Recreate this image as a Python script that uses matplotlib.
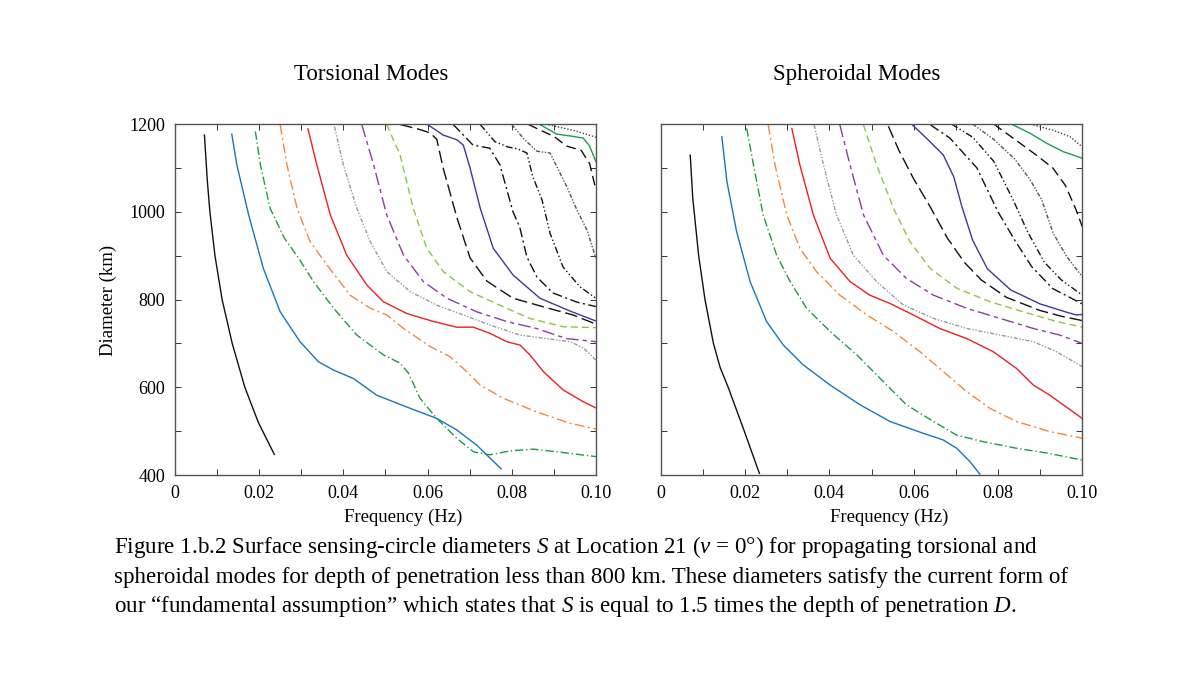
import matplotlib
matplotlib.use("Agg")
import matplotlib.pyplot as plt
from matplotlib.ticker import MultipleLocator

plt.rcParams.update({
    "font.family": ["Liberation Serif", "DejaVu Serif"],
    "mathtext.fontset": "custom",
    "mathtext.rm": "Liberation Serif",
    "mathtext.it": "Liberation Serif:italic",
})

# ---- torsional modes (left panel): frequency (Hz) / diameter (km) per branch ----
T1_F = [0.0070, 0.0077, 0.0083, 0.0095, 0.0112, 0.0136, 0.0166, 0.0198, 0.0236]
T1_D = [1175, 1069, 1000, 900, 800, 700, 600, 520, 447]
T2_F = [0.0135, 0.0147, 0.0175, 0.0210, 0.0250, 0.0297, 0.0341, 0.0377, 0.0424, 0.0479,
        0.0559, 0.0622, 0.0669, 0.0717, 0.0775]
T2_D = [1177, 1107, 993, 871, 772, 704, 658, 639, 620, 582, 552, 529, 503, 468, 414]
T3_F = [0.0191, 0.0203, 0.0226, 0.0260, 0.0294, 0.0329, 0.0377, 0.0432, 0.0495, 0.0535,
        0.0555, 0.0582, 0.0622, 0.0669, 0.0709, 0.0748, 0.0796, 0.0851, 0.0907, 0.1000]
T3_D = [1183, 1107, 1008, 940, 894, 841, 780, 719, 674, 655, 632, 575, 529, 484, 453,
        446, 455, 459, 453, 442]
T4_F = [0.0250, 0.0266, 0.0290, 0.0321, 0.0361, 0.0416, 0.0464, 0.0503, 0.0543, 0.0606,
        0.0653, 0.0685, 0.0725, 0.0780, 0.0859, 0.0938, 0.1000]
T4_D = [1198, 1107, 1008, 932, 879, 810, 780, 765, 734, 693, 670, 643, 605, 575, 544, 518, 505]
T5_F = [0.0316, 0.0337, 0.0369, 0.0408, 0.0456, 0.0495, 0.0551, 0.0614, 0.0669, 0.0709,
        0.0748, 0.0788, 0.0820, 0.0843, 0.0875, 0.0922, 0.0970, 0.1000]
T5_D = [1189, 1107, 993, 901, 833, 795, 768, 750, 737, 737, 723, 704, 696, 674, 636, 594, 567, 553]
T6_F = [0.0379, 0.0400, 0.0432, 0.0464, 0.0503, 0.0559, 0.0622, 0.0685, 0.0748, 0.0820,
        0.0883, 0.0938, 0.0970, 0.1000]
T6_D = [1194, 1107, 1008, 932, 864, 818, 787, 765, 742, 719, 711, 704, 690, 662]
T7_F = [0.0444, 0.0472, 0.0503, 0.0543, 0.0590, 0.0646, 0.0717, 0.0788, 0.0859, 0.0930, 0.1000]
T7_D = [1198, 1107, 993, 901, 841, 803, 772, 750, 734, 711, 704]
T8_F = [0.0503, 0.0535, 0.0566, 0.0598, 0.0638, 0.0701, 0.0772, 0.0843, 0.0922, 0.1000]
T8_D = [1199, 1129, 1008, 917, 863, 818, 787, 757, 738, 736]
T9_F = [0.0535, 0.0580, 0.0606, 0.0622, 0.0637, 0.0670, 0.0701, 0.0741, 0.0803, 0.0884,
        0.0945, 0.1000]
T9_D = [1199, 1188, 1180, 1165, 1100, 986, 895, 842, 803, 781, 765, 744]
T10_F = [0.0600, 0.0637, 0.0670, 0.0685, 0.0701, 0.0725, 0.0756, 0.0803, 0.0867, 0.0938, 0.1000]
T10_D = [1199, 1175, 1164, 1152, 1100, 1009, 917, 856, 803, 774, 751]
T11_F = [0.0661, 0.0685, 0.0708, 0.0748, 0.0772, 0.0803, 0.0819, 0.0836, 0.0860, 0.0898,
         0.0955, 0.1000]
T11_D = [1199, 1175, 1152, 1145, 1107, 1000, 965, 897, 851, 815, 794, 784]
T12_F = [0.0725, 0.0760, 0.0790, 0.0815, 0.0836, 0.0850, 0.0872, 0.0891, 0.0922, 0.0962, 0.1000]
T12_D = [1199, 1160, 1148, 1143, 1134, 1080, 1027, 951, 874, 829, 803]
T13_F = [0.0800, 0.0830, 0.0860, 0.0891, 0.0931, 0.0955, 0.0979, 0.1000]
T13_D = [1199, 1165, 1138, 1134, 1057, 1004, 958, 894]
T14_F = [0.0840, 0.0870, 0.0900, 0.0930, 0.0965, 0.0985, 0.1000]
T14_D = [1199, 1185, 1172, 1150, 1140, 1110, 1050]
T15_F = [0.0867, 0.0907, 0.0938, 0.0970, 0.0985, 0.1000]
T15_D = [1199, 1177, 1173, 1168, 1150, 1114]
T16_F = [0.0880, 0.0898, 0.0945, 0.1000]
T16_D = [1200, 1196, 1186, 1170]

# ---- spheroidal modes (right panel) ----
S1_F = [0.0070, 0.0076, 0.0090, 0.0105, 0.0115, 0.0125, 0.0141, 0.0160, 0.0196, 0.0234]
S1_D = [1129, 1031, 900, 800, 750, 700, 645, 600, 506, 404]
S2_F = [0.0145, 0.0157, 0.0180, 0.0212, 0.0251, 0.0291, 0.0338, 0.0402, 0.0473, 0.0544,
        0.0623, 0.0670, 0.0702, 0.0734, 0.0757]
S2_D = [1171, 1069, 955, 841, 750, 696, 651, 605, 560, 522, 495, 480, 461, 430, 402]
S3_F = [0.0204, 0.0220, 0.0243, 0.0275, 0.0307, 0.0346, 0.0402, 0.0465, 0.0528, 0.0583,
        0.0647, 0.0702, 0.0765, 0.0844, 0.0923, 0.1000]
S3_D = [1190, 1107, 993, 901, 841, 780, 727, 674, 613, 560, 522, 491, 476, 461, 449, 434]
S4_F = [0.0255, 0.0271, 0.0299, 0.0330, 0.0370, 0.0425, 0.0489, 0.0552, 0.0615, 0.0670,
        0.0726, 0.0781, 0.0844, 0.0923, 0.1000]
S4_D = [1198, 1107, 993, 917, 863, 810, 765, 727, 681, 636, 590, 552, 522, 499, 484]
S5_F = [0.0311, 0.0330, 0.0362, 0.0402, 0.0449, 0.0496, 0.0544, 0.0599, 0.0662, 0.0726,
        0.0789, 0.0844, 0.0884, 0.0923, 0.1000]
S5_D = [1190, 1107, 993, 894, 841, 810, 791, 765, 734, 711, 681, 643, 605, 582, 529]
S6_F = [0.0364, 0.0386, 0.0417, 0.0457, 0.0512, 0.0575, 0.0647, 0.0726, 0.0805, 0.0884,
        0.0939, 0.1000]
S6_D = [1198, 1107, 993, 901, 841, 788, 757, 734, 719, 704, 681, 647]
S7_F = [0.0425, 0.0449, 0.0481, 0.0528, 0.0583, 0.0647, 0.0726, 0.0805, 0.0884, 0.0947, 0.1000]
S7_D = [1198, 1107, 993, 901, 848, 810, 780, 757, 734, 719, 700]
S8_F = [0.0481, 0.0512, 0.0552, 0.0591, 0.0639, 0.0702, 0.0781, 0.0860, 0.0939, 0.1000]
S8_D = [1198, 1107, 1008, 932, 871, 826, 795, 772, 750, 737]
S9_F = [0.0540, 0.0565, 0.0600, 0.0640, 0.0680, 0.0720, 0.0760, 0.0820, 0.0900, 0.0950, 0.1000]
S9_D = [1195, 1140, 1075, 1010, 940, 885, 845, 805, 775, 762, 752]
S10_F = [0.0595, 0.0630, 0.0670, 0.0695, 0.0715, 0.0740, 0.0775, 0.0830, 0.0900, 0.0960,
         0.0985, 0.1000]
S10_D = [1200, 1168, 1130, 1080, 1010, 935, 870, 822, 790, 772, 765, 766]
S11_F = [0.0640, 0.0686, 0.0750, 0.0800, 0.0840, 0.0880, 0.0930, 0.0970, 0.1000]
S11_D = [1198, 1168, 1100, 1000, 935, 875, 825, 805, 790]
S12_F = [0.0690, 0.0740, 0.0790, 0.0836, 0.0870, 0.0910, 0.0950, 0.1000]
S12_D = [1200, 1170, 1115, 1027, 955, 885, 845, 810]
S13_F = [0.0740, 0.0790, 0.0840, 0.0875, 0.0904, 0.0931, 0.0963, 0.1000]
S13_D = [1200, 1165, 1120, 1075, 1027, 951, 898, 852]
S14_F = [0.0790, 0.0840, 0.0890, 0.0930, 0.0960, 0.0985, 0.1000]
S14_D = [1200, 1165, 1130, 1100, 1060, 1005, 966]
S15_F = [0.0836, 0.0876, 0.0916, 0.0955, 0.1000]
S15_D = [1198, 1179, 1156, 1137, 1122]
S16_F = [0.0884, 0.0931, 0.0971, 0.1000]
S16_D = [1198, 1186, 1171, 1148]

TORSIONAL = [(T1_F, T1_D), (T2_F, T2_D), (T3_F, T3_D), (T4_F, T4_D), (T5_F, T5_D),
             (T6_F, T6_D), (T7_F, T7_D), (T8_F, T8_D), (T9_F, T9_D), (T10_F, T10_D),
             (T11_F, T11_D), (T12_F, T12_D), (T13_F, T13_D), (T14_F, T14_D),
             (T15_F, T15_D), (T16_F, T16_D)]
SPHEROIDAL = [(S1_F, S1_D), (S2_F, S2_D), (S3_F, S3_D), (S4_F, S4_D), (S5_F, S5_D),
              (S6_F, S6_D), (S7_F, S7_D), (S8_F, S8_D), (S9_F, S9_D), (S10_F, S10_D),
              (S11_F, S11_D), (S12_F, S12_D), (S13_F, S13_D), (S14_F, S14_D),
              (S15_F, S15_D), (S16_F, S16_D)]

XTICKS = [0, 0.02, 0.04, 0.06, 0.08, 0.10]
XTICK_LABELS = ["0", "0.02", "0.04", "0.06", "0.08", "0.10"]
YTICKS = [400, 600, 800, 1000, 1200]

# one style per overtone branch, same for both panels
STYLES = [
    dict(color="#111111", ls="-"),
    dict(color="#1677c0", ls="-"),
    dict(color="#1e9a46", ls=(0, (6, 2, 1, 2))),
    dict(color="#f4873a", ls=(0, (7, 2.5, 1.5, 2.5))),
    dict(color="#ee2020", ls="-"),
    dict(color="#9a9a9a", ls=(0, (3, 1.2, 1, 1.2, 1, 1.2))),
    dict(color="#8e3ca0", ls=(0, (9, 3, 3, 3))),
    dict(color="#8cc63f", ls=(0, (5, 3))),
    dict(color="#111111", ls=(0, (9, 3.5))),
    dict(color="#3a3a9e", ls="-"),
    dict(color="#111111", ls=(0, (7, 2.5, 1.5, 2.5))),
    dict(color="#111111", ls=(0, (5, 1.8, 1, 1.8, 1, 1.8))),
    dict(color="#555555", ls=(0, (3, 1.2, 1, 1.2, 1, 1.2))),
    dict(color="#111111", ls=(0, (7, 3.5))),
    dict(color="#1aa050", ls="-"),
    dict(color="#444444", ls=(0, (1, 1.3))),
]

fig = plt.figure(figsize=(12, 6.79), dpi=100)
ax_t = fig.add_axes([0.1458, 0.3004, 0.3508, 0.5169])
ax_s = fig.add_axes([0.5506, 0.3004, 0.3513, 0.5169])

for ax, curves in ((ax_t, TORSIONAL), (ax_s, SPHEROIDAL)):
    for (f, d), st in zip(curves, STYLES):
        ax.plot(f, d, color=st["color"], linestyle=st["ls"], lw=1.0)
    ax.set_xlim(0, 0.10)
    ax.set_ylim(400, 1200)
    ax.set_xticks(XTICKS)
    ax.set_xticklabels(XTICK_LABELS)
    ax.set_yticks(YTICKS)
    ax.xaxis.set_minor_locator(MultipleLocator(0.01))
    ax.yaxis.set_minor_locator(MultipleLocator(100))
    ax.tick_params(which="both", direction="in", top=True, right=True,
                   length=4.5, width=0.7, color="#333333")
    ax.tick_params(which="major", labelsize=13, pad=7)
    for sp in ax.spines.values():
        sp.set_color("#555555")
        sp.set_linewidth(1.0)

ax_s.tick_params(labelleft=False)

fig.text(0.3096, 0.891, "Torsional Modes", ha="center", va="center", fontsize=16.5)
fig.text(0.714, 0.891, "Spheroidal Modes", ha="center", va="center", fontsize=16.5)
fig.text(0.336, 1 - 517 / 679, "Frequency (Hz)", ha="center", va="center", fontsize=13.5)
fig.text(0.741, 1 - 517 / 679, "Frequency (Hz)", ha="center", va="center", fontsize=13.5)
fig.text(0.09, 1 - 300 / 679, "Diameter (km)", ha="center", va="center",
         rotation=90, fontsize=13.5)

CAPTION = [
    "Figure 1.b.2 Surface sensing-circle diameters $S$ at Location 21 ($\\nu$ = 0°) "
    "for propagating torsional and",
    "spheroidal modes for depth of penetration less than 800 km. These diameters "
    "satisfy the current form of",
    "our “fundamental assumption” which states that $S$ is equal to 1.5 times the "
    "depth of penetration $D$.",
]
for i, line in enumerate(CAPTION):
    fig.text(0.095, 1 - (553 + 29.5 * i) / 679, line, ha="left", va="baseline",
             fontsize=16.6)

fig.savefig("out.png", dpi=100)
